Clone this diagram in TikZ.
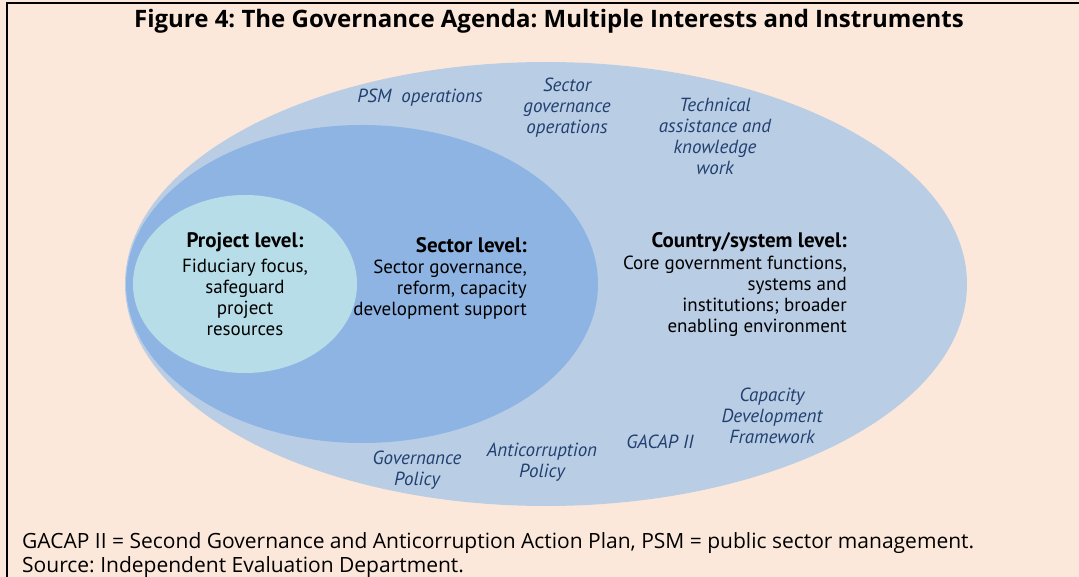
\documentclass[tikz,border=0pt]{standalone}
\usepackage{fontspec}
\setmainfont{PT Sans}
\newfontfamily\widefont{Open Sans}
\usetikzlibrary{positioning}
\frenchspacing

\definecolor{peach}{HTML}{FCE8DA}
\definecolor{outerblue}{HTML}{B9CDE5}
\definecolor{midblue}{HTML}{8EB4E3}
\definecolor{innerblue}{HTML}{B7DEE8}
\definecolor{instrblue}{HTML}{22406F}

\begin{document}
\begin{tikzpicture}[x=1pt,y=-1pt,
	level head/.style={font=\fontsize{21}{24}\selectfont\bfseries,inner sep=0pt},
	level text/.style={align=center,font=\fontsize{19}{21}\selectfont,inner sep=0pt},
	instr/.style={align=center,font=\fontsize{19}{21}\selectfont\itshape,text=instrblue,inner sep=0pt}]
	
	\fill[peach] (0,0) rectangle (1079,577);
	\useasboundingbox (0,0) rectangle (1079,577);
	\draw[line width=2.5pt] (7,577) -- (7,3) -- (1079,3);
	
	\node[font=\widefont\fontsize{24}{27}\selectfont\bfseries] (title) at (549,21)
		{Figure 4: The Governance Agenda: Multiple Interests and Instruments};
	
	\fill[outerblue] (546,284) ellipse [x radius=421pt, y radius=222pt];
	\fill[midblue] (362,284) ellipse [x radius=236pt, y radius=159pt];
	\fill[innerblue] (245,284) ellipse [x radius=112pt, y radius=89pt];
	
	\node[level head] (projhead) at (245,242) {Project level:};
	\node[level text] (proj) at (245,297) {Fiduciary focus,\\safeguard\\project\\resources};
	\node[level head,anchor=east] (secthead) at (527,245) {Sector level:};
	\node[level text,align=right,anchor=east] (sect) at (527,290) {Sector governance,\\reform, capacity\\development support};
	\node[level head,anchor=east] (ctryhead) at (847,242) {Country/system level:};
	\node[level text,align=right,anchor=east] (ctry) at (847,296) {Core government functions,\\systems and\\institutions; broader\\enabling environment};
	
	\node[instr] (psm) at (420,98) {PSM\ \ operations};
	\node[instr] (sgo) at (567,108) {Sector\\governance\\operations};
	\node[instr] (ta) at (715,136) {Technical\\assistance and\\knowledge\\work};
	\node[instr] (gov) at (417,470) {Governance\\Policy};
	\node[instr] (acp) at (542,462) {Anticorruption\\Policy};
	\node[instr] (gacap) at (660,442) {GACAP II};
	\node[instr] (cdf) at (772,416) {Capacity\\Development\\Framework};
	
	\node[align=left,anchor=west,inner sep=0pt,font=\widefont\fontsize{21}{24}\selectfont] (note) at (22,555)
		{GACAP II = Second Governance and Anticorruption Action Plan, PSM = public sector management.\\Source: Independent Evaluation Department.};
\end{tikzpicture}
\end{document}
